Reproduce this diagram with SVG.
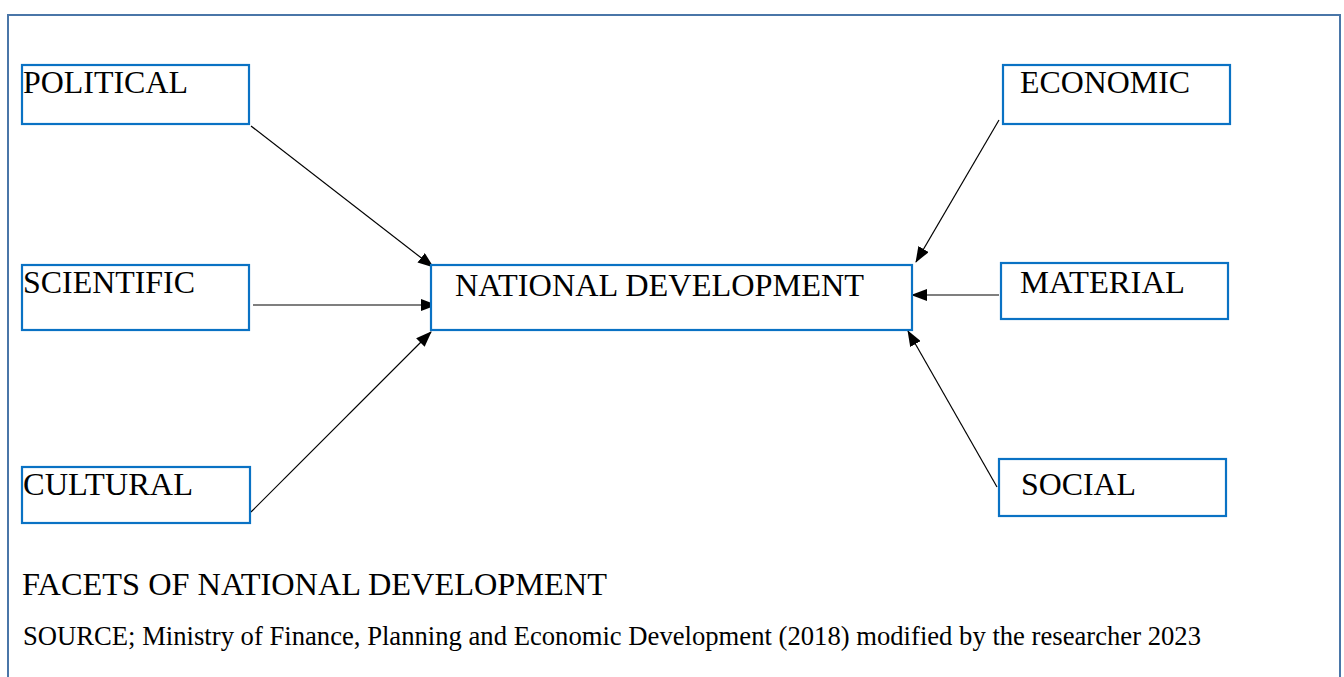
<svg xmlns="http://www.w3.org/2000/svg" width="1344" height="677" viewBox="0 0 1344 677">
  <style>
    .frame { fill: none; stroke: #4a76a8; stroke-width: 2; }
    .box { fill: #ffffff; stroke: #0a72c4; stroke-width: 2.2; }
    text { font-family: "Liberation Serif", Tinos, "Times New Roman", Times, "DejaVu Serif", serif; fill: #000000; }
    .lbl { font-size: 32px; }
    .conn { stroke: #000000; stroke-width: 1.2; fill: none; marker-end: url(#head); }
  </style>
  <defs>
    <marker id="head" markerUnits="userSpaceOnUse" markerWidth="16" markerHeight="12" refX="15" refY="6" orient="auto">
      <path d="M0,0 L16,6 L0,12 z" fill="#000000"/>
    </marker>
  </defs>

  <rect width="1344" height="677" fill="#ffffff"/>
  <!-- outer frame, open at the bottom -->
  <path class="frame" d="M8,690 L8,15 L1340,15 L1340,690"/>

  <!-- connectors -->
  <g id="connectors">
    <line class="conn" x1="251" y1="126" x2="433" y2="267"/>
    <line class="conn" x1="253" y1="305" x2="436" y2="305"/>
    <line class="conn" x1="251" y1="512" x2="431" y2="332"/>
    <line class="conn" x1="999" y1="120" x2="916" y2="262"/>
    <line class="conn" x1="999" y1="295" x2="912" y2="295"/>
    <line class="conn" x1="997" y1="487" x2="908" y2="331"/>
  </g>

  <g id="node-political">
    <rect class="box" x="22" y="65" width="227" height="59"/>
    <text class="lbl" x="23" y="93" textLength="165" lengthAdjust="spacingAndGlyphs">POLITICAL</text>
  </g>
  <g id="node-scientific">
    <rect class="box" x="22" y="265" width="227" height="65"/>
    <text class="lbl" x="23" y="293" textLength="172" lengthAdjust="spacingAndGlyphs">SCIENTIFIC</text>
  </g>
  <g id="node-cultural">
    <rect class="box" x="22" y="467" width="228" height="56"/>
    <text class="lbl" x="23" y="495" textLength="170" lengthAdjust="spacingAndGlyphs">CULTURAL</text>
  </g>
  <g id="node-national">
    <rect class="box" x="431" y="265" width="481" height="65"/>
    <text class="lbl" x="455" y="296" textLength="409" lengthAdjust="spacingAndGlyphs">NATIONAL DEVELOPMENT</text>
  </g>
  <g id="node-economic">
    <rect class="box" x="1003" y="65" width="227" height="59"/>
    <text class="lbl" x="1020" y="93" textLength="170" lengthAdjust="spacingAndGlyphs">ECONOMIC</text>
  </g>
  <g id="node-material">
    <rect class="box" x="1001" y="263" width="227" height="56"/>
    <text class="lbl" x="1020" y="293" textLength="165" lengthAdjust="spacingAndGlyphs">MATERIAL</text>
  </g>
  <g id="node-social">
    <rect class="box" x="999" y="459" width="227" height="57"/>
    <text class="lbl" x="1021" y="495" textLength="115" lengthAdjust="spacingAndGlyphs">SOCIAL</text>
  </g>

  <!-- caption -->
  <text x="22" y="595" font-size="31" textLength="585" lengthAdjust="spacingAndGlyphs">FACETS OF NATIONAL DEVELOPMENT</text>
  <text x="23" y="645" font-size="26.7" textLength="1178" lengthAdjust="spacingAndGlyphs">SOURCE; Ministry of Finance, Planning and Economic Development (2018) modified by the researcher 2023</text>
</svg>
